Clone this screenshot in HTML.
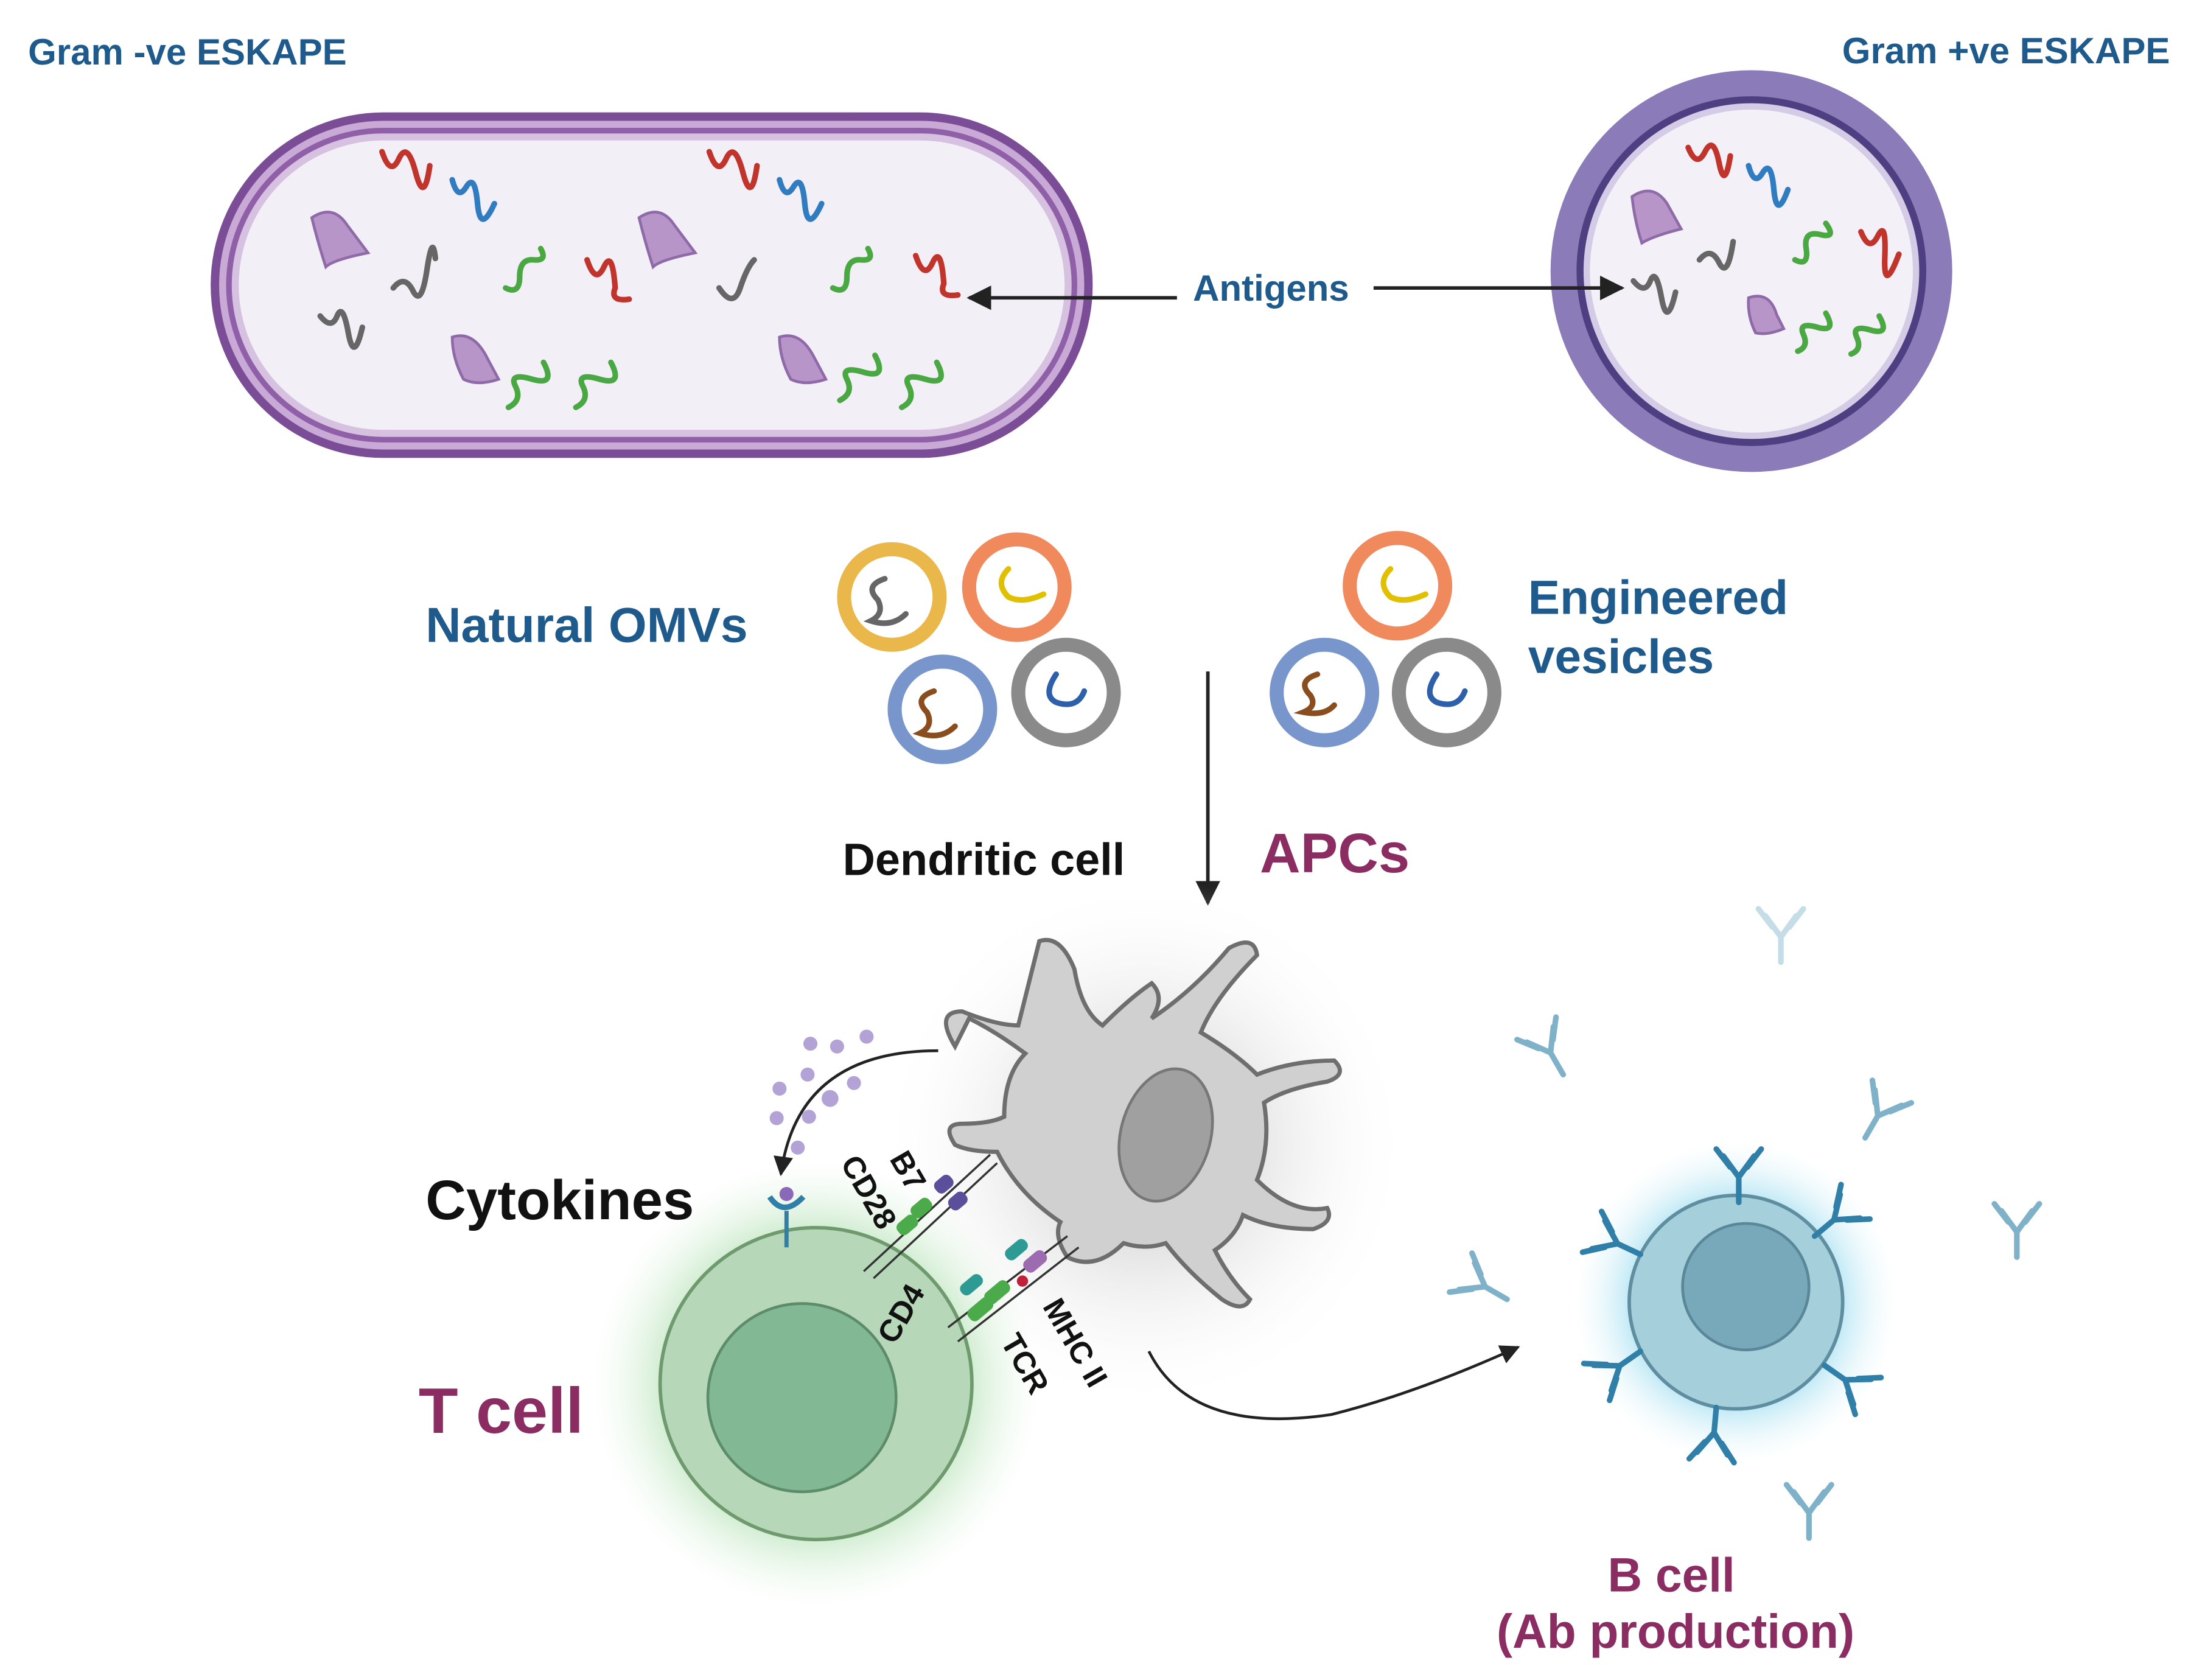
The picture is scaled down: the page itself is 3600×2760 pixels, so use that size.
<!DOCTYPE html>
<html><head><meta charset="utf-8"><style>
html,body{margin:0;padding:0;background:#fff}
svg{display:block}
text{font-family:"Liberation Sans",sans-serif;font-weight:bold}
</style></head><body>
<svg width="3600" height="2760" viewBox="0 0 1560 1196" xmlns="http://www.w3.org/2000/svg">
<defs>
<radialGradient id="gg"><stop offset="0.55" stop-color="#9fd8a0" stop-opacity="0.9"/><stop offset="1" stop-color="#e8f7e8" stop-opacity="0"/></radialGradient>
<radialGradient id="bg"><stop offset="0.55" stop-color="#8fd8ee" stop-opacity="0.9"/><stop offset="1" stop-color="#e6f6fb" stop-opacity="0"/></radialGradient>
<radialGradient id="dg"><stop offset="0.3" stop-color="#d8d8d8" stop-opacity="0.9"/><stop offset="1" stop-color="#fff" stop-opacity="0"/></radialGradient>
<marker id="ah" viewBox="0 0 10 10" refX="9" refY="5" markerWidth="7" markerHeight="7" orient="auto"><path d="M0,0L10,5L0,10z" fill="#222"/></marker>
<g id="ab" fill="none" stroke-width="4" stroke-linecap="round"><path d="M0,0V-18M0,-18L-11,-33M0,-18L11,-33M-6,-25L-16,-38M6,-25L16,-38"/></g>
</defs>

<text x="20" y="46" font-size="26" fill="#1f5a8c">Gram -ve ESKAPE</text>
<text x="1545" y="45" font-size="26" fill="#1f5a8c" text-anchor="end">Gram +ve ESKAPE</text>

<rect x="150" y="80" width="628" height="246" rx="123" fill="#7b4d96"/>
<rect x="156" y="86" width="616" height="234" rx="117" fill="#c9a9d6"/>
<rect x="161" y="91" width="606" height="224" rx="112" fill="#8f5fa8"/>
<rect x="165" y="95" width="598" height="216" rx="108" fill="#d6c1e0"/>
<rect x="170" y="100" width="588" height="206" rx="103" fill="#f3eff7"/>

<circle cx="1247" cy="193" r="143" fill="#8b7bb8"/>
<circle cx="1247" cy="193" r="122" fill="#d4cce6" stroke="#4e3f82" stroke-width="5"/>
<circle cx="1247" cy="193" r="115" fill="#f3f0f7"/>

<g fill="#b795c9" stroke="#8e6aa8" stroke-width="2">
<path d="M222,155q15,-10 25,5l15,20q-25,5 -30,10q-5,-15 -10,-35z"/>
<path d="M455,155q15,-10 25,5l15,20q-25,5 -30,10q-5,-15 -10,-35z"/>
<path d="M322,240q15,-5 25,15l8,15q-15,5 -25,0q-8,-15 -8,-30z"/>
<path d="M555,240q15,-5 25,15l8,15q-15,5 -25,0q-8,-15 -8,-30z"/>
<path d="M1162,140q15,-10 25,5l10,18q-20,5 -28,10q-5,-15 -7,-33z"/>
<path d="M1245,212q15,-5 20,12l5,10q-12,5 -20,3q-6,-12 -5,-25z"/>
</g>
<g fill="none" stroke-width="4" stroke-linecap="round">
<path d="M272,108q6,18 12,5t12,10t10,-5" stroke="#c0342c"/>
<path d="M505,108q6,18 12,5t12,10t10,-5" stroke="#c0342c"/>
<path d="M418,185q6,18 12,5t8,15q-4,10 10,8" stroke="#c0342c"/>
<path d="M652,182q6,18 12,5t8,15q-4,10 10,8" stroke="#c0342c"/>
<path d="M1202,105q6,15 12,3t10,8t8,-5" stroke="#c0342c"/>
<path d="M1325,165q6,15 12,3t5,15t10,-2" stroke="#c0342c"/>
<path d="M322,128q4,15 10,5t8,12t12,0" stroke="#2f7cc0"/>
<path d="M555,128q4,15 10,5t8,12t12,0" stroke="#2f7cc0"/>
<path d="M1245,118q4,15 10,5t8,12t10,0" stroke="#2f7cc0"/>
<path d="M280,205q8,-10 14,2t10,-15t6,-8" stroke="#666"/>
<path d="M228,225q8,10 12,0t8,12t10,-4" stroke="#666"/>
<path d="M512,205q10,15 15,0t10,-20" stroke="#666"/>
<path d="M1210,185q8,-10 14,2t10,-15" stroke="#666"/>
<path d="M1163,200q8,10 12,0t8,12t10,-4" stroke="#666"/>
<g stroke="#4aa842">
<path d="M360,205q10,5 10,-8t10,-12t5,-8"/><path d="M362,290q10,-5 5,-15t12,-5t8,-12"/>
<path d="M410,290q10,-5 5,-15t12,-5t8,-12"/><path d="M593,205q10,5 10,-8t10,-12t5,-8"/>
<path d="M598,285q10,-5 5,-15t12,-5t8,-12"/><path d="M642,290q10,-5 5,-15t12,-5t8,-12"/>
<path d="M1278,185q10,5 8,-8t10,-10t4,-8"/><path d="M1280,250q8,-3 4,-12t10,-5t6,-10"/>
<path d="M1318,252q8,-3 4,-12t10,-5t6,-10"/>
</g>
</g>

<text x="905" y="214" font-size="26" fill="#1f5a8c" text-anchor="middle">Antigens</text>
<line x1="838" y1="212" x2="690" y2="212" stroke="#222" stroke-width="2.5" marker-end="url(#ah)"/>
<line x1="978" y1="205" x2="1155" y2="205" stroke="#222" stroke-width="2.5" marker-end="url(#ah)"/>

<text x="303" y="457" font-size="35" fill="#1f5a8c">Natural OMVs</text>
<text x="1088" y="437" font-size="34" fill="#1f5a8c">Engineered</text>
<text x="1088" y="479" font-size="34" fill="#1f5a8c">vesicles</text>

<g stroke-width="10" fill="#fff">
<circle cx="635" cy="425" r="34" stroke="#e9b74a"/>
<circle cx="724" cy="418" r="34" stroke="#f08a5d"/>
<circle cx="671" cy="505" r="34" stroke="#7896cc"/>
<circle cx="759" cy="493" r="34" stroke="#8a8a8a"/>
<circle cx="995" cy="417" r="34" stroke="#f08a5d"/>
<circle cx="943" cy="493" r="34" stroke="#7896cc"/>
<circle cx="1030" cy="493" r="34" stroke="#8a8a8a"/>
</g>
<g fill="none" stroke-width="4" stroke-linecap="round">
<path d="M630,412q-15,5 -5,15q5,10 -5,15q15,5 25,-5" stroke="#666"/>
<path d="M718,405q-10,10 0,20q10,5 25,-2" stroke="#e0c000"/>
<path d="M990,405q-10,10 0,20q10,5 25,-2" stroke="#e0c000"/>
<path d="M665,492q-15,5 -5,15q5,10 -5,15q15,5 25,-5" stroke="#8a4e1e"/>
<path d="M938,480q-15,5 -5,15q5,8 -5,12q15,3 22,-5" stroke="#8a4e1e"/>
<path d="M752,480q-10,15 0,20q15,5 20,-8" stroke="#2e5faa"/>
<path d="M1023,480q-10,15 0,20q15,5 20,-8" stroke="#2e5faa"/>
</g>

<line x1="860" y1="478" x2="860" y2="643" stroke="#222" stroke-width="2.5" marker-end="url(#ah)"/>
<text x="600" y="623" font-size="32" fill="#111">Dendritic cell</text>
<text x="897" y="621" font-size="40" fill="#8b2d63">APCs</text>

<circle cx="815" cy="815" r="190" fill="url(#dg)"/>
<circle cx="581" cy="985" r="160" fill="url(#gg)"/>
<circle cx="1236" cy="927" r="115" fill="url(#bg)"/>

<path d="M680,745 q-15,-25 5,-25 q25,10 40,10 q10,-40 15,-60 q15,-5 25,20 q5,30 20,40 q20,-20 35,-30 q10,10 0,25 q30,-20 55,-50 q18,-10 20,5 q-30,30 -40,55 q25,15 40,30 q25,-10 55,-10 q10,10 -5,15 q-30,5 -45,15 q5,30 -5,55 q25,25 50,20 q5,10 -10,15 q-30,0 -50,-10 q-5,15 -20,25 q10,20 25,35 q-5,10 -20,0 q-25,-20 -40,-40 q-15,5 -30,0 q-20,20 -40,10 q-10,-15 -5,-25 q-30,-20 -45,-50 q-20,0 -30,-5 q-10,-15 5,-15 q20,0 30,-5 q0,-30 15,-45 q-20,-15 -40,-25z" fill="#d0d0d0" stroke="#6e6e6e" stroke-width="3"/>
<ellipse cx="830" cy="808" rx="32" ry="48" fill="#a0a0a0" stroke="#777" stroke-width="2" transform="rotate(15 830 808)"/>

<circle cx="581" cy="985" r="111" fill="#b6d8b8" stroke="#6e9a6e" stroke-width="2.5"/>
<circle cx="571" cy="995" r="67" fill="#82b994" stroke="#5c8c6a" stroke-width="2"/>

<circle cx="1236" cy="927" r="76" fill="#a6cfdc" stroke="#5e8ea0" stroke-width="2.5"/>
<circle cx="1243" cy="916" r="45" fill="#77a9bb" stroke="#5b8898" stroke-width="2"/>
<g stroke="#2f7fa8">
<use href="#ab" transform="translate(1238,856)"/>
<use href="#ab" transform="translate(1292,880) rotate(50)"/>
<use href="#ab" transform="translate(1299,972) rotate(125)"/>
<use href="#ab" transform="translate(1222,1002) rotate(185)"/>
<use href="#ab" transform="translate(1168,962) rotate(235)"/>
<use href="#ab" transform="translate(1168,893) rotate(-65)"/>
</g>
<g stroke="#7fb2c9"><use href="#ab" transform="translate(1328,810) rotate(30)"/><use href="#ab" transform="translate(1113,765) rotate(-30)"/><use href="#ab" transform="translate(1436,895)"/><use href="#ab" transform="translate(1288,1095)"/><use href="#ab" transform="translate(1073,925) rotate(-60)"/></g>
<g stroke="#c4dde7"><use href="#ab" transform="translate(1268,685)"/></g>

<g stroke="#333" stroke-width="1.5"><line x1="615" y1="905" x2="705" y2="822"/><line x1="622" y1="910" x2="710" y2="828"/><line x1="675" y1="945" x2="760" y2="880"/><line x1="682" y1="955" x2="768" y2="888"/></g>
<g fill="#4bab4b"><rect x="648" y="855" width="16" height="10" rx="4" transform="rotate(-40 656 860)"/><rect x="638" y="867" width="16" height="10" rx="4" transform="rotate(-40 646 872)"/><rect x="700" y="915" width="20" height="10" rx="4" transform="rotate(-40 710 920)"/><rect x="688" y="927" width="20" height="10" rx="4" transform="rotate(-40 698 932)"/></g>
<g fill="#5b4e9a"><rect x="665" y="838" width="14" height="10" rx="4" transform="rotate(-40 672 843)"/><rect x="675" y="850" width="14" height="10" rx="4" transform="rotate(-40 682 855)"/></g>
<g fill="#2e9a94"><rect x="715" y="885" width="18" height="9" rx="4" transform="rotate(-40 724 890)"/><rect x="683" y="910" width="18" height="9" rx="4" transform="rotate(-40 692 915)"/></g>
<g fill="#9d6bb0"><rect x="728" y="893" width="18" height="10" rx="4" transform="rotate(-40 737 898)"/></g>
<circle cx="728" cy="912" r="4" fill="#c0203a"/>
<path d="M548,852q10,15 24,0" fill="none" stroke="#2f7fa8" stroke-width="4"/><line x1="560" y1="862" x2="560" y2="888" stroke="#2f7fa8" stroke-width="3"/>
<circle cx="560" cy="850" r="5" fill="#8a6ab8"/>

<text font-size="22" fill="#111" transform="translate(633,825) rotate(60)">B7</text>
<text font-size="22" fill="#111" transform="translate(598,828) rotate(60)">CD28</text>
<text font-size="22" fill="#111" transform="translate(637,958) rotate(-60)">CD4</text>
<text font-size="22" fill="#111" transform="translate(712,955) rotate(60)">TCR</text>
<text font-size="22" fill="#111" transform="translate(742,930) rotate(60)">MHC II</text>

<g fill="#a18ccc" opacity="0.8"><circle cx="577" cy="743" r="5"/><circle cx="596" cy="745" r="5"/><circle cx="617" cy="738" r="5"/><circle cx="575" cy="765" r="5"/><circle cx="555" cy="775" r="5"/><circle cx="608" cy="771" r="5"/><circle cx="591" cy="782" r="6"/><circle cx="553" cy="796" r="5"/><circle cx="576" cy="795" r="5"/><circle cx="568" cy="817" r="5"/></g>
<path d="M668,748 q-100,0 -112,88" fill="none" stroke="#222" stroke-width="2" marker-end="url(#ah)"/>
<path d="M818,962 q30,60 130,45 q60,-15 133,-48" fill="none" stroke="#222" stroke-width="2" marker-end="url(#ah)"/>

<text x="303" y="868" font-size="40" fill="#111">Cytokines</text>
<text x="298" y="1020" font-size="46" fill="#8b2d63">T cell</text>
<text x="1190" y="1133" font-size="34" fill="#8b2d63" text-anchor="middle">B cell</text>
<text x="1193" y="1173" font-size="34" fill="#8b2d63" text-anchor="middle">(Ab production)</text>
</svg>
</body></html>
